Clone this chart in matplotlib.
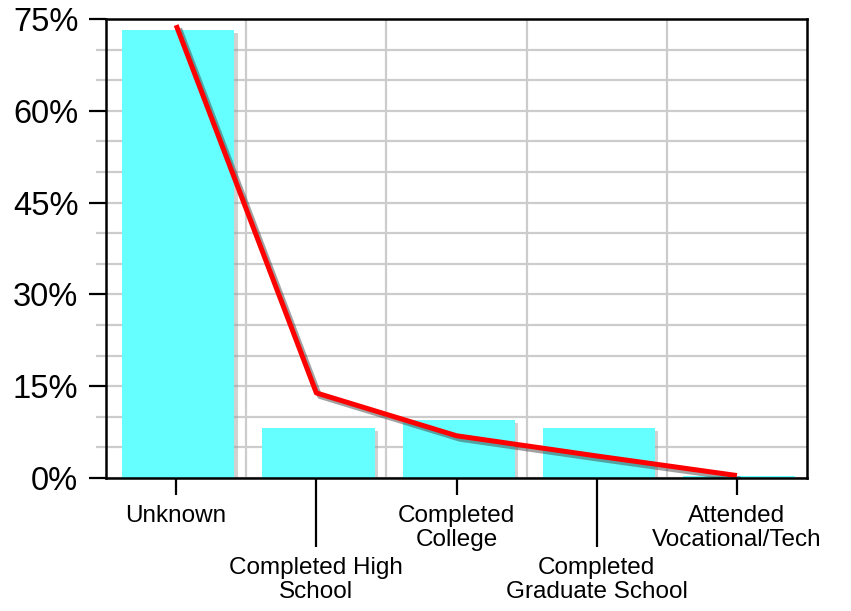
import numpy as np
import matplotlib.pyplot as plt
from matplotlib import patheffects as pe
from matplotlib.ticker import MultipleLocator, FixedLocator, FuncFormatter

plt.rcParams['font.family'] = ['Liberation Sans', 'DejaVu Sans']

# data
categories = ["Unknown", "Completed High\nSchool", "Completed\nCollege",
              "Completed\nGraduate School", "Attended\nVocational/Tech"]
bar_values = [73.2, 8.2, 9.5, 8.2, 0.3]
line_values = [74.0, 13.9, 6.9, 3.6, 0.4]

fig = plt.figure(figsize=(8.51, 6.11), dpi=100)
ax = fig.add_axes([0.1246, 0.2177, 0.8237, 0.7512])

x = np.arange(len(categories))

# gridlines
ax.yaxis.set_major_locator(MultipleLocator(15))
ax.yaxis.set_minor_locator(MultipleLocator(5))
ax.grid(which='both', axis='y', color='#cccccc', linewidth=1.6, zorder=0)
for b in x[:-1] + 0.5:
    ax.axvline(b, color='#cccccc', linewidth=1.6, zorder=0)

# bars with shadow
bars = ax.bar(x + 0.015, bar_values, width=0.8, color='#66ffff', zorder=2)
for p in bars:
    p.set_path_effects([pe.SimplePatchShadow(offset=(2.5, -2.5), shadow_rgbFace='#999999', alpha=0.45),
                        pe.Normal()])

# line with shadow
ax.plot(x, line_values, color='#ff0000', linewidth=3.6, solid_capstyle='butt', zorder=4,
        path_effects=[pe.SimpleLineShadow(offset=(2.5, -2.5), shadow_color='#444444', alpha=0.5),
                      pe.Normal()])

ax.set_xlim(-0.5, 4.5)
ax.set_ylim(0, 75)

# y axis
ax.yaxis.set_major_formatter(FuncFormatter(lambda v, _: f"{v:.0f}%"))
ax.tick_params(axis='y', which='major', length=12, width=1.6, pad=8, labelsize=23.5, color='black')
ax.tick_params(axis='y', which='minor', length=7, width=1.6, color='#cccccc')

# x axis: alternating short/long ticks
ax.xaxis.set_major_locator(FixedLocator(x[0::2]))
ax.xaxis.set_minor_locator(FixedLocator(x[1::2]))
ax.set_xticklabels(categories[0::2])
ax.set_xticklabels(categories[1::2], minor=True)
ax.tick_params(axis='x', which='major', length=12.5, width=1.6, pad=7, labelsize=17.5)
ax.tick_params(axis='x', which='minor', length=50, width=1.6, pad=7, labelsize=17.5)
for lab in ax.get_xticklabels(which='both'):
    lab.set_linespacing(1.12)

for s in ax.spines.values():
    s.set_linewidth(1.8)
    s.set_zorder(5)

fig.savefig("out.png", dpi=100)
